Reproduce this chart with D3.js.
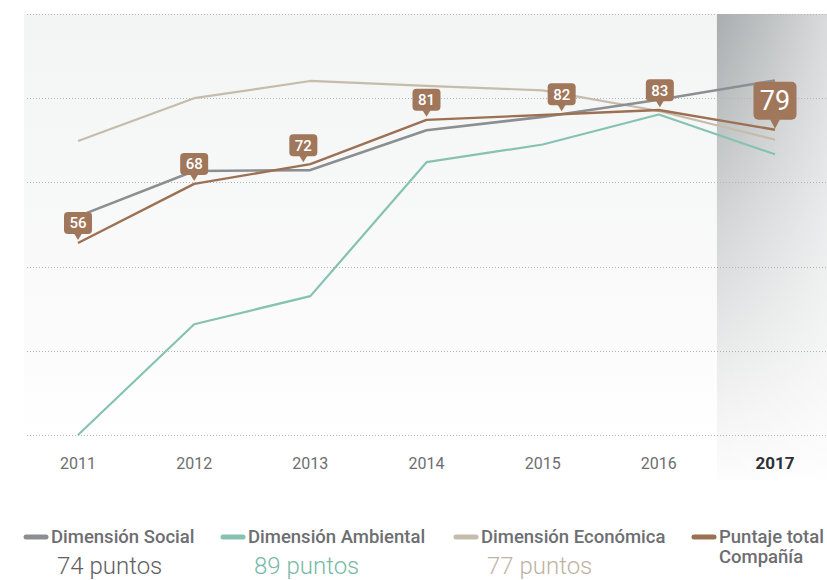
<!DOCTYPE html>
<html>
<head>
<meta charset="utf-8">
<script src="https://cdn.jsdelivr.net/npm/d3@7"></script>
<style>
  html, body { margin: 0; padding: 0; background: #fff; }
  svg { display: block; font-family: Roboto, "Noto Sans", sans-serif; }
</style>
</head>
<body>
<svg id="chart" width="827" height="580"></svg>
<script>
// Years on the x axis
const years = [2011, 2012, 2013, 2014, 2015, 2016, 2017];

// Scores per dimension, one value per year
const social     = [61.4, 70.6, 70.8, 78.9, 81.6, 85.1, 89];
const ambiental  = [17, 39.5, 45.2, 72.4, 76, 82.1, 74];
const economica  = [76.7, 85.4, 88.9, 87.9, 87, 82.8, 77];
const total      = [56, 68, 72, 81, 82, 83, 79];

// Legend entries
const seriesNames = ["Dimensión Social", "Dimensión Ambiental", "Dimensión Económica", "Puntaje total"];
const legendScores = ["74 puntos", "89 puntos", "77 puntos", null];

const W = 827, H = 580;
const svg = d3.select("#chart");

const colors = {
  social: "#8b8f92",
  ambiental: "#86c2b1",
  economica: "#c5bcab",
  total: "#9c7052",
  bubble: "#a0775b"
};

const x = d3.scalePoint().domain(years).range([78, 775]);
const y = d3.scaleLinear().domain([17, 102.5]).range([435, 14]);
const gridValues = d3.range(6).map(i => 17 + i * (102.5 - 17) / 5);

const defs = svg.append("defs");

// soft panel behind the plot
const panelGrad = defs.append("linearGradient").attr("id", "panelGrad")
  .attr("x1", 0).attr("y1", 0).attr("x2", 0).attr("y2", 1);
panelGrad.append("stop").attr("offset", 0).attr("stop-color", "#f3f4f4");
panelGrad.append("stop").attr("offset", 0.75).attr("stop-color", "#fbfbfb");
panelGrad.append("stop").attr("offset", 1).attr("stop-color", "#ffffff");

svg.append("rect")
  .attr("x", 24).attr("y", y(102.5))
  .attr("width", W - 24).attr("height", y(17) - y(102.5))
  .attr("fill", "url(#panelGrad)");

// highlighted band for the latest year
const step = x.step();
const bandX = x(2017) - step / 2;
const bandV = defs.append("linearGradient").attr("id", "bandV")
  .attr("x1", 0).attr("y1", 0).attr("x2", 0).attr("y2", 1);
bandV.append("stop").attr("offset", 0).attr("stop-color", "#a9adaf");
bandV.append("stop").attr("offset", 0.45).attr("stop-color", "#d3d5d6");
bandV.append("stop").attr("offset", 0.85).attr("stop-color", "#f3f3f3");
bandV.append("stop").attr("offset", 1).attr("stop-color", "#fdfdfd");
const bandH = defs.append("linearGradient").attr("id", "bandH")
  .attr("x1", 0).attr("y1", 0).attr("x2", 1).attr("y2", 0);
bandH.append("stop").attr("offset", 0).attr("stop-color", "#ffffff").attr("stop-opacity", 0);
bandH.append("stop").attr("offset", 1).attr("stop-color", "#ffffff").attr("stop-opacity", 0.55);

svg.append("rect")
  .attr("x", bandX).attr("y", y(102.5))
  .attr("width", W - bandX).attr("height", 480 - y(102.5))
  .attr("fill", "url(#bandV)");
svg.append("rect")
  .attr("x", bandX).attr("y", y(102.5))
  .attr("width", W - bandX).attr("height", 480 - y(102.5))
  .attr("fill", "url(#bandH)");

// dotted gridlines
svg.append("g").selectAll("line")
  .data(gridValues)
  .join("line")
  .attr("x1", 27).attr("x2", W)
  .attr("y1", d => Math.round(y(d)) + 0.5).attr("y2", d => Math.round(y(d)) + 0.5)
  .attr("stroke", "#b4b4b4")
  .attr("stroke-width", 1)
  .attr("stroke-dasharray", "1,2");

// year labels
svg.append("g").selectAll("text")
  .data(years)
  .join("text")
  .attr("x", d => x(d))
  .attr("y", 469)
  .attr("text-anchor", "middle")
  .attr("font-size", d => d === 2017 ? 17 : 16)
  .attr("font-weight", d => d === 2017 ? 700 : 400)
  .attr("fill", d => d === 2017 ? "#2f3033" : "#6d6e71")
  .text(d => d);

// lines
const line = d3.line().x((d, i) => x(years[i])).y(d => y(d));
const series = [
  { values: economica, color: colors.economica, width: 2.2 },
  { values: ambiental, color: colors.ambiental, width: 2.2 },
  { values: social, color: colors.social, width: 2.6 },
  { values: total, color: colors.total, width: 2.4 }
];
svg.append("g").selectAll("path")
  .data(series)
  .join("path")
  .attr("d", d => line(d.values))
  .attr("fill", "none")
  .attr("stroke", d => d.color)
  .attr("stroke-width", d => d.width)
  .attr("stroke-linejoin", "round")
  .attr("stroke-linecap", "butt");

// value bubbles for the total score
const bubbleShift = [0, 0, -7, 0, 19, 1, 0];
function totalAt(px) {
  // position on the total line at horizontal pixel px
  for (let i = 0; i < years.length - 1; i++) {
    const a = x(years[i]), b = x(years[i + 1]);
    if (px >= a && px <= b) {
      const t = (px - a) / (b - a);
      return y(total[i] + t * (total[i + 1] - total[i]));
    }
  }
  return y(total[total.length - 1]);
}

const bubbles = svg.append("g");
total.forEach((v, i) => {
  const big = i === total.length - 1;
  const px = x(years[i]) + bubbleShift[i];
  const tipY = totalAt(px) - (big ? 1 : 3);
  const bw = big ? 43 : 28, bh = big ? 38 : 22, ph = big ? 9 : 6, pw = big ? 10 : 8, r = big ? 5 : 4;
  const top = tipY - ph - bh, left = px - bw / 2;
  const g = bubbles.append("g");
  g.append("rect")
    .attr("x", left).attr("y", top)
    .attr("width", bw).attr("height", bh)
    .attr("rx", r).attr("ry", r)
    .attr("fill", colors.bubble);
  g.append("path")
    .attr("d", `M${px - pw / 2},${top + bh - 0.5} L${px + pw / 2},${top + bh - 0.5} L${px},${tipY} Z`)
    .attr("fill", colors.bubble);
  g.append("text")
    .attr("x", px)
    .attr("y", top + bh / 2)
    .attr("dy", "0.36em")
    .attr("text-anchor", "middle")
    .attr("font-size", big ? 27 : 15)
    .attr("font-weight", big ? 400 : 500)
    .attr("fill", "#ffffff")
    .text(v);
});

// legend
const legendColors = [colors.social, colors.ambiental, colors.economica, colors.total];
const scoreColors = ["#5f6062", "#78b9a7", "#bdb3a2", null];
const legendX = [24, 221, 454, 692];
const legend = svg.append("g");
seriesNames.forEach((name, i) => {
  const lx = legendX[i];
  legend.append("line")
    .attr("x1", lx + 2).attr("x2", lx + 22)
    .attr("y1", 537).attr("y2", 537)
    .attr("stroke", legendColors[i])
    .attr("stroke-width", 5)
    .attr("stroke-linecap", "round");
  legend.append("text")
    .attr("x", lx + 27).attr("y", 543)
    .attr("font-size", 18.5)
    .attr("font-weight", 500)
    .attr("fill", "#6d6e71")
    .text(name);
  if (legendScores[i]) {
    legend.append("text")
      .attr("x", lx + 33).attr("y", 574)
      .attr("font-size", 24)
      .attr("font-weight", 300)
      .attr("fill", scoreColors[i])
      .text(legendScores[i]);
  }
});
legend.append("text")
  .attr("x", legendX[3] + 27).attr("y", 563)
  .attr("font-size", 18.5)
  .attr("font-weight", 500)
  .attr("fill", "#6d6e71")
  .text("Compañía");
</script>
</body>
</html>
